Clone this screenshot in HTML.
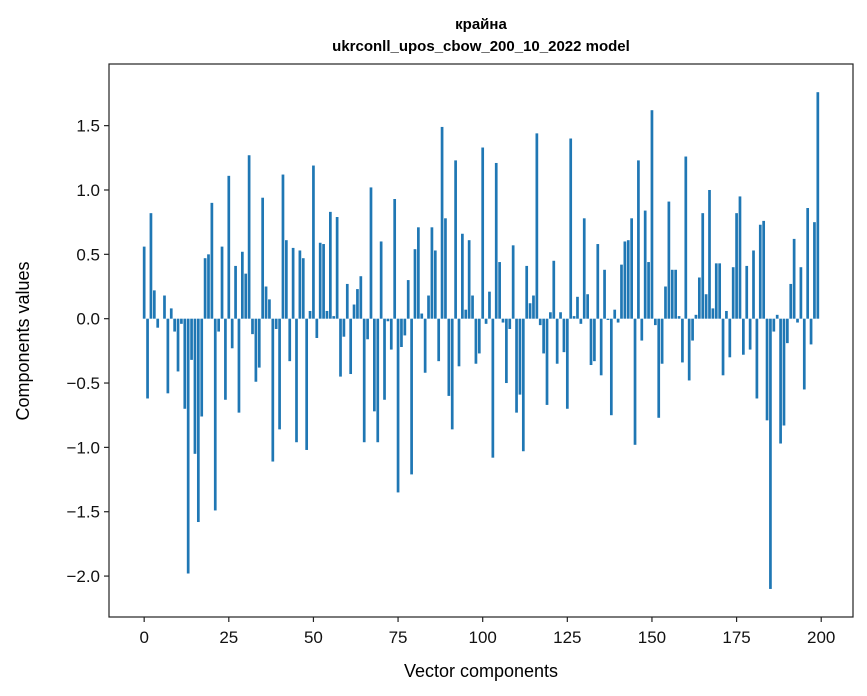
<!DOCTYPE html>
<html><head><meta charset="utf-8"><style>
body{margin:0;background:#fff;}
svg{display:block;font-family:"Liberation Sans","DejaVu Sans",sans-serif;}
</style></head><body>
<svg id="chart" width="867" height="696" viewBox="0 0 867 696">
<rect x="0" y="0" width="867" height="696" fill="#fff"/>
<text x="481" y="29" text-anchor="middle" font-size="15" font-weight="bold">крайна</text>
<text x="481" y="51" text-anchor="middle" font-size="15" font-weight="bold">ukrconll_upos_cbow_200_10_2022 model</text>
<g id="bars"></g>
<g id="axes"></g>
<text x="481" y="677" text-anchor="middle" font-size="18">Vector components</text>
<text transform="translate(29,341) rotate(-90)" text-anchor="middle" font-size="18">Components values</text>
</svg>
<script>
const componentValues = [
0.56,-0.62,0.82,0.22,-0.07,0.0,0.18,-0.58,0.08,-0.10,
-0.41,-0.04,-0.70,-1.98,-0.32,-1.05,-1.58,-0.76,0.47,0.50,
0.90,-1.49,-0.10,0.56,-0.63,1.11,-0.23,0.41,-0.73,0.52,
0.35,1.27,-0.12,-0.49,-0.38,0.94,0.25,0.15,-1.11,-0.08,
-0.86,1.12,0.61,-0.33,0.55,-0.96,0.53,0.47,-1.02,0.06,
1.19,-0.15,0.59,0.58,0.06,0.83,0.02,0.79,-0.45,-0.14,
0.27,-0.43,0.11,0.23,0.33,-0.96,-0.16,1.02,-0.72,-0.96,
0.60,-0.63,-0.02,-0.24,0.93,-1.35,-0.22,-0.13,0.30,-1.21,
0.54,0.71,0.04,-0.42,0.18,0.71,0.53,-0.33,1.49,0.78,
-0.60,-0.86,1.23,-0.37,0.66,0.07,0.61,0.18,-0.35,-0.27,
1.33,-0.04,0.21,-1.08,1.21,0.44,-0.03,-0.50,-0.08,0.57,
-0.73,-0.59,-1.03,0.41,0.12,0.18,1.44,-0.05,-0.27,-0.67,
0.05,0.45,-0.35,0.05,-0.26,-0.70,1.40,0.02,0.17,-0.04,
0.78,0.19,-0.36,-0.33,0.58,-0.44,0.38,-0.01,-0.75,0.07,
-0.03,0.42,0.60,0.61,0.78,-0.98,1.23,-0.17,0.84,0.44,
1.62,-0.05,-0.77,-0.35,0.25,0.91,0.38,0.38,0.02,-0.34,
1.26,-0.48,-0.17,0.03,0.32,0.82,0.19,1.00,0.08,0.43,
0.43,-0.44,0.06,-0.30,0.40,0.82,0.95,-0.28,0.41,-0.24,
0.53,-0.62,0.73,0.76,-0.79,-2.10,-0.10,0.03,-0.97,-0.83,
-0.19,0.27,0.62,-0.03,0.40,-0.55,0.86,-0.20,0.75,1.76
];
const xTickValues = [0,25,50,75,100,125,150,175,200];
const yTickValues = [-2.0,-1.5,-1.0,-0.5,0.0,0.5,1.0,1.5];
const yTickLabels = ["\u22122.0","\u22121.5","\u22121.0","\u22120.5","0.0","0.5","1.0","1.5"];

const NS="http://www.w3.org/2000/svg";
const L=109,R=853,T=64,B=617;
const xMin=-10.39,xMax=209.39,yMin=-2.318,yMax=1.979;
function xs(v){return L+(v-xMin)/(xMax-xMin)*(R-L);}
function ys(v){return B-(v-yMin)/(yMax-yMin)*(B-T);}
function mk(tag,attrs,parent){const e=document.createElementNS(NS,tag);for(const k in attrs)e.setAttribute(k,attrs[k]);parent.appendChild(e);return e;}
const bars=document.getElementById('bars');
componentValues.forEach((v,i)=>{
  const x0=xs(i-0.4),x1=xs(i+0.4),y0=ys(Math.max(v,0)),y1=ys(Math.min(v,0));
  const r=mk('rect',{x:x0,y:y0,width:x1-x0,height:Math.max(y1-y0,0.01),fill:'#1f77b4'},bars);
  
  
});
const ax=document.getElementById('axes');
const frame=mk('rect',{x:L,y:T,width:R-L,height:B-T,fill:'none',stroke:'#222',"stroke-width":1.2},ax);


xTickValues.forEach(v=>{
  const x=xs(v);
  const t=mk('line',{x1:x,x2:x,y1:B,y2:B+5,stroke:'#222',"stroke-width":1.2},ax);
  
  
  const lb=mk('text',{x:x,y:B+26,"text-anchor":"middle","font-size":"17",fill:'#111'},ax);
  lb.textContent=String(v);
  
  
});
yTickValues.forEach((v,i)=>{
  const y=ys(v);
  const t=mk('line',{x1:L-5,x2:L,y1:y,y2:y,stroke:'#222',"stroke-width":1.2},ax);
  
  
  const lb=mk('text',{x:L-9,y:y+6,"text-anchor":"end","font-size":"17",fill:'#111'},ax);
  lb.textContent=yTickLabels[i];
  
  
});
</script>
</body></html>
